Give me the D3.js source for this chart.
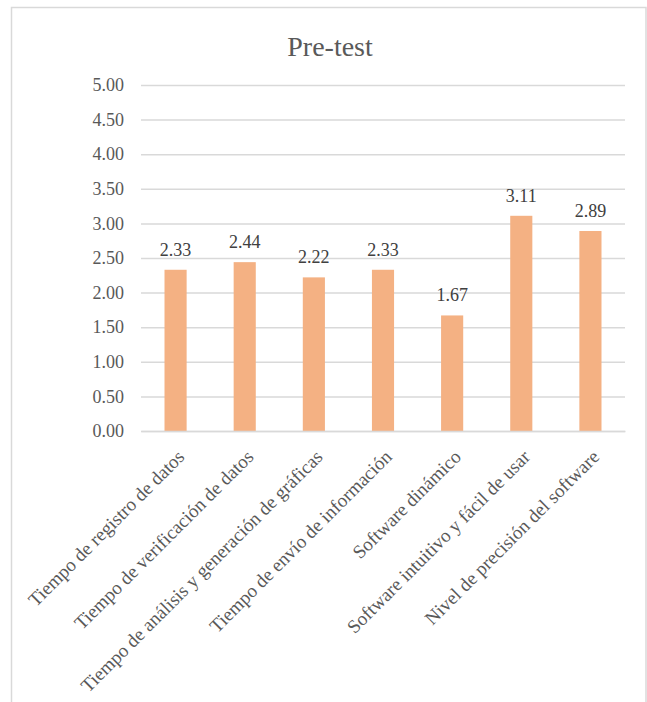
<!DOCTYPE html>
<html><head><meta charset="utf-8">
<script src="https://cdn.jsdelivr.net/npm/d3@7"></script>
<style>body{margin:0;background:#fff}svg{display:block}</style>
</head><body>
<script>
const categories = ["Tiempo de registro de datos","Tiempo de verificación de datos","Tiempo de análisis y generación de gráficas","Tiempo de envío de información","Software dinámico","Software intuitivo y fácil de usar","Nivel de precisión del software"];
const values = [2.33, 2.44, 2.22, 2.33, 1.67, 3.11, 2.89];
const yTicks = [0,0.5,1,1.5,2,2.5,3,3.5,4,4.5,5];
const title = "Pre-test";

const FONT = '"Liberation Serif"';
const W=647,H=702;
const svg=d3.select("body").append("svg").attr("width",W).attr("height",H);
svg.append("rect").attr("x",11.5).attr("y",7.5).attr("width",634.5).attr("height",H).attr("fill","#fff").attr("stroke","#d9d9d9").attr("stroke-width",1.5);

const m={left:141,right:625,top:85,bottom:431};
const x=d3.scaleBand().domain(categories).range([m.left,m.right]).paddingInner(0.68).paddingOuter(0.34);
const y=d3.scaleLinear().domain([0,5]).range([m.bottom,m.top]);

svg.append("text").attr("x",330).attr("y",56).attr("text-anchor","middle").attr("font-size",28).attr("fill","#595959").style("font-family",FONT).text(title);

const gy=svg.append("g").attr("transform",`translate(${m.left},0)`)
 .call(d3.axisLeft(y).tickValues(yTicks).tickFormat(d3.format(".2f")).tickSize(-(m.right-m.left)).tickPadding(17));
gy.select(".domain").remove();
gy.selectAll(".tick line").attr("stroke","#d9d9d9").attr("stroke-width",1.5);
gy.selectAll(".tick text").attr("font-size",18).attr("fill","#595959").style("font-family",FONT);

svg.selectAll("rect.bar").data(values).enter().append("rect").attr("class","bar")
 .attr("x",(d,i)=>x(categories[i])).attr("width",x.bandwidth())
 .attr("y",d=>y(d)).attr("height",d=>y(0)-y(d)).attr("fill","#F4B183");

svg.selectAll("text.val").data(values).enter().append("text").attr("class","val")
 .attr("x",(d,i)=>x(categories[i])+x.bandwidth()/2).attr("y",d=>y(d)-14)
 .attr("text-anchor","middle").attr("font-size",18).attr("fill","#404040").style("font-family",FONT).text(d=>d.toFixed(2));

const gx=svg.append("g").attr("transform",`translate(0,${m.bottom})`)
 .call(d3.axisBottom(x).tickSize(0).tickPadding(0));
gx.select(".domain").attr("stroke","#d9d9d9").attr("stroke-width",1.5);
gx.selectAll(".tick text").attr("font-size",19).attr("fill","#595959").style("font-family",FONT)
 .attr("text-anchor","end").attr("dy",null).attr("y",null)
 .attr("transform","translate(10,27) rotate(-45)");
</script>
</body></html>
